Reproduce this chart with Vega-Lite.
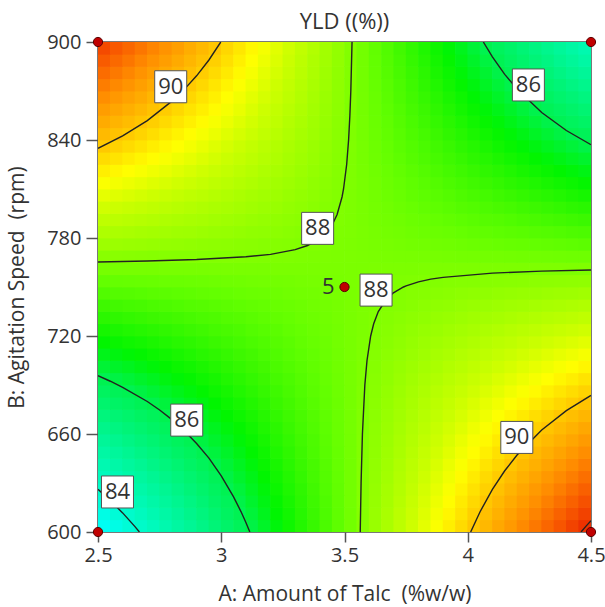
{
"$schema": "https://vega.github.io/schema/vega-lite/v6.json",
"width": 493, "height": 490,
"autosize": {"type": "none"},
"padding": {"left": 98, "top": 42, "right": 14, "bottom": 75},
"background": "white",
"title": {"text": "YLD ((%))", "font": "Open Sans", "fontSize": 22, "fontWeight": "normal", "color": "#333", "frame": "group", "anchor": "middle", "offset": -3},
"config": {
  "view": {"stroke": "#4d4d4d", "strokeWidth": 1.5},
  "axis": {"domain": false, "grid": false, "tickColor": "#555", "tickWidth": 1.5, "labelFont": "Open Sans", "labelFontSize": 20, "labelColor": "#333", "titleFont": "Open Sans", "titleFontSize": 21, "titleFontWeight": "normal", "titleColor": "#333", "labelOverlap": false}
},
"datasets": {
"grid": [
{"A":2.525,"B":603.75,"Y":83.47},{"A":2.575,"B":603.75,"Y":83.68},{"A":2.625,"B":603.75,"Y":83.90},{"A":2.675,"B":603.75,"Y":84.12},{"A":2.725,"B":603.75,"Y":84.34},{"A":2.775,"B":603.75,"Y":84.56},{"A":2.825,"B":603.75,"Y":84.78},{"A":2.875,"B":603.75,"Y":84.99},{"A":2.925,"B":603.75,"Y":85.21},{"A":2.975,"B":603.75,"Y":85.43},{"A":3.025,"B":603.75,"Y":85.65},{"A":3.075,"B":603.75,"Y":85.87},{"A":3.125,"B":603.75,"Y":86.08},{"A":3.175,"B":603.75,"Y":86.30},{"A":3.225,"B":603.75,"Y":86.52},{"A":3.275,"B":603.75,"Y":86.74},{"A":3.325,"B":603.75,"Y":86.96},{"A":3.375,"B":603.75,"Y":87.17},{"A":3.425,"B":603.75,"Y":87.39},{"A":3.475,"B":603.75,"Y":87.61},{"A":3.525,"B":603.75,"Y":87.83},{"A":3.575,"B":603.75,"Y":88.05},{"A":3.625,"B":603.75,"Y":88.27},{"A":3.675,"B":603.75,"Y":88.48},{"A":3.725,"B":603.75,"Y":88.70},{"A":3.775,"B":603.75,"Y":88.92},{"A":3.825,"B":603.75,"Y":89.14},{"A":3.875,"B":603.75,"Y":89.36},{"A":3.925,"B":603.75,"Y":89.57},{"A":3.975,"B":603.75,"Y":89.79},{"A":4.025,"B":603.75,"Y":90.01},{"A":4.075,"B":603.75,"Y":90.23},{"A":4.125,"B":603.75,"Y":90.45},{"A":4.175,"B":603.75,"Y":90.66},{"A":4.225,"B":603.75,"Y":90.88},{"A":4.275,"B":603.75,"Y":91.10},{"A":4.325,"B":603.75,"Y":91.32},{"A":4.375,"B":603.75,"Y":91.54},{"A":4.425,"B":603.75,"Y":91.76},{"A":4.475,"B":603.75,"Y":91.97},
{"A":2.525,"B":611.25,"Y":83.68},{"A":2.575,"B":611.25,"Y":83.89},{"A":2.625,"B":611.25,"Y":84.09},{"A":2.675,"B":611.25,"Y":84.30},{"A":2.725,"B":611.25,"Y":84.51},{"A":2.775,"B":611.25,"Y":84.72},{"A":2.825,"B":611.25,"Y":84.92},{"A":2.875,"B":611.25,"Y":85.13},{"A":2.925,"B":611.25,"Y":85.34},{"A":2.975,"B":611.25,"Y":85.55},{"A":3.025,"B":611.25,"Y":85.76},{"A":3.075,"B":611.25,"Y":85.96},{"A":3.125,"B":611.25,"Y":86.17},{"A":3.175,"B":611.25,"Y":86.38},{"A":3.225,"B":611.25,"Y":86.59},{"A":3.275,"B":611.25,"Y":86.79},{"A":3.325,"B":611.25,"Y":87.00},{"A":3.375,"B":611.25,"Y":87.21},{"A":3.425,"B":611.25,"Y":87.42},{"A":3.475,"B":611.25,"Y":87.63},{"A":3.525,"B":611.25,"Y":87.83},{"A":3.575,"B":611.25,"Y":88.04},{"A":3.625,"B":611.25,"Y":88.25},{"A":3.675,"B":611.25,"Y":88.46},{"A":3.725,"B":611.25,"Y":88.67},{"A":3.775,"B":611.25,"Y":88.87},{"A":3.825,"B":611.25,"Y":89.08},{"A":3.875,"B":611.25,"Y":89.29},{"A":3.925,"B":611.25,"Y":89.50},{"A":3.975,"B":611.25,"Y":89.70},{"A":4.025,"B":611.25,"Y":89.91},{"A":4.075,"B":611.25,"Y":90.12},{"A":4.125,"B":611.25,"Y":90.33},{"A":4.175,"B":611.25,"Y":90.54},{"A":4.225,"B":611.25,"Y":90.74},{"A":4.275,"B":611.25,"Y":90.95},{"A":4.325,"B":611.25,"Y":91.16},{"A":4.375,"B":611.25,"Y":91.37},{"A":4.425,"B":611.25,"Y":91.58},{"A":4.475,"B":611.25,"Y":91.78},
{"A":2.525,"B":618.75,"Y":83.89},{"A":2.575,"B":618.75,"Y":84.09},{"A":2.625,"B":618.75,"Y":84.28},{"A":2.675,"B":618.75,"Y":84.48},{"A":2.725,"B":618.75,"Y":84.68},{"A":2.775,"B":618.75,"Y":84.88},{"A":2.825,"B":618.75,"Y":85.07},{"A":2.875,"B":618.75,"Y":85.27},{"A":2.925,"B":618.75,"Y":85.47},{"A":2.975,"B":618.75,"Y":85.67},{"A":3.025,"B":618.75,"Y":85.86},{"A":3.075,"B":618.75,"Y":86.06},{"A":3.125,"B":618.75,"Y":86.26},{"A":3.175,"B":618.75,"Y":86.46},{"A":3.225,"B":618.75,"Y":86.65},{"A":3.275,"B":618.75,"Y":86.85},{"A":3.325,"B":618.75,"Y":87.05},{"A":3.375,"B":618.75,"Y":87.25},{"A":3.425,"B":618.75,"Y":87.44},{"A":3.475,"B":618.75,"Y":87.64},{"A":3.525,"B":618.75,"Y":87.84},{"A":3.575,"B":618.75,"Y":88.04},{"A":3.625,"B":618.75,"Y":88.23},{"A":3.675,"B":618.75,"Y":88.43},{"A":3.725,"B":618.75,"Y":88.63},{"A":3.775,"B":618.75,"Y":88.83},{"A":3.825,"B":618.75,"Y":89.02},{"A":3.875,"B":618.75,"Y":89.22},{"A":3.925,"B":618.75,"Y":89.42},{"A":3.975,"B":618.75,"Y":89.62},{"A":4.025,"B":618.75,"Y":89.81},{"A":4.075,"B":618.75,"Y":90.01},{"A":4.125,"B":618.75,"Y":90.21},{"A":4.175,"B":618.75,"Y":90.41},{"A":4.225,"B":618.75,"Y":90.60},{"A":4.275,"B":618.75,"Y":90.80},{"A":4.325,"B":618.75,"Y":91.00},{"A":4.375,"B":618.75,"Y":91.20},{"A":4.425,"B":618.75,"Y":91.39},{"A":4.475,"B":618.75,"Y":91.59},
{"A":2.525,"B":626.25,"Y":84.10},{"A":2.575,"B":626.25,"Y":84.29},{"A":2.625,"B":626.25,"Y":84.47},{"A":2.675,"B":626.25,"Y":84.66},{"A":2.725,"B":626.25,"Y":84.85},{"A":2.775,"B":626.25,"Y":85.03},{"A":2.825,"B":626.25,"Y":85.22},{"A":2.875,"B":626.25,"Y":85.41},{"A":2.925,"B":626.25,"Y":85.60},{"A":2.975,"B":626.25,"Y":85.78},{"A":3.025,"B":626.25,"Y":85.97},{"A":3.075,"B":626.25,"Y":86.16},{"A":3.125,"B":626.25,"Y":86.35},{"A":3.175,"B":626.25,"Y":86.53},{"A":3.225,"B":626.25,"Y":86.72},{"A":3.275,"B":626.25,"Y":86.91},{"A":3.325,"B":626.25,"Y":87.09},{"A":3.375,"B":626.25,"Y":87.28},{"A":3.425,"B":626.25,"Y":87.47},{"A":3.475,"B":626.25,"Y":87.66},{"A":3.525,"B":626.25,"Y":87.84},{"A":3.575,"B":626.25,"Y":88.03},{"A":3.625,"B":626.25,"Y":88.22},{"A":3.675,"B":626.25,"Y":88.41},{"A":3.725,"B":626.25,"Y":88.59},{"A":3.775,"B":626.25,"Y":88.78},{"A":3.825,"B":626.25,"Y":88.97},{"A":3.875,"B":626.25,"Y":89.15},{"A":3.925,"B":626.25,"Y":89.34},{"A":3.975,"B":626.25,"Y":89.53},{"A":4.025,"B":626.25,"Y":89.72},{"A":4.075,"B":626.25,"Y":89.90},{"A":4.125,"B":626.25,"Y":90.09},{"A":4.175,"B":626.25,"Y":90.28},{"A":4.225,"B":626.25,"Y":90.47},{"A":4.275,"B":626.25,"Y":90.65},{"A":4.325,"B":626.25,"Y":90.84},{"A":4.375,"B":626.25,"Y":91.03},{"A":4.425,"B":626.25,"Y":91.21},{"A":4.475,"B":626.25,"Y":91.40},
{"A":2.525,"B":633.75,"Y":84.31},{"A":2.575,"B":633.75,"Y":84.49},{"A":2.625,"B":633.75,"Y":84.66},{"A":2.675,"B":633.75,"Y":84.84},{"A":2.725,"B":633.75,"Y":85.02},{"A":2.775,"B":633.75,"Y":85.19},{"A":2.825,"B":633.75,"Y":85.37},{"A":2.875,"B":633.75,"Y":85.55},{"A":2.925,"B":633.75,"Y":85.72},{"A":2.975,"B":633.75,"Y":85.90},{"A":3.025,"B":633.75,"Y":86.08},{"A":3.075,"B":633.75,"Y":86.26},{"A":3.125,"B":633.75,"Y":86.43},{"A":3.175,"B":633.75,"Y":86.61},{"A":3.225,"B":633.75,"Y":86.79},{"A":3.275,"B":633.75,"Y":86.96},{"A":3.325,"B":633.75,"Y":87.14},{"A":3.375,"B":633.75,"Y":87.32},{"A":3.425,"B":633.75,"Y":87.49},{"A":3.475,"B":633.75,"Y":87.67},{"A":3.525,"B":633.75,"Y":87.85},{"A":3.575,"B":633.75,"Y":88.03},{"A":3.625,"B":633.75,"Y":88.20},{"A":3.675,"B":633.75,"Y":88.38},{"A":3.725,"B":633.75,"Y":88.56},{"A":3.775,"B":633.75,"Y":88.73},{"A":3.825,"B":633.75,"Y":88.91},{"A":3.875,"B":633.75,"Y":89.09},{"A":3.925,"B":633.75,"Y":89.26},{"A":3.975,"B":633.75,"Y":89.44},{"A":4.025,"B":633.75,"Y":89.62},{"A":4.075,"B":633.75,"Y":89.80},{"A":4.125,"B":633.75,"Y":89.97},{"A":4.175,"B":633.75,"Y":90.15},{"A":4.225,"B":633.75,"Y":90.33},{"A":4.275,"B":633.75,"Y":90.50},{"A":4.325,"B":633.75,"Y":90.68},{"A":4.375,"B":633.75,"Y":90.86},{"A":4.425,"B":633.75,"Y":91.03},{"A":4.475,"B":633.75,"Y":91.21},
{"A":2.525,"B":641.25,"Y":84.52},{"A":2.575,"B":641.25,"Y":84.69},{"A":2.625,"B":641.25,"Y":84.85},{"A":2.675,"B":641.25,"Y":85.02},{"A":2.725,"B":641.25,"Y":85.19},{"A":2.775,"B":641.25,"Y":85.35},{"A":2.825,"B":641.25,"Y":85.52},{"A":2.875,"B":641.25,"Y":85.69},{"A":2.925,"B":641.25,"Y":85.85},{"A":2.975,"B":641.25,"Y":86.02},{"A":3.025,"B":641.25,"Y":86.19},{"A":3.075,"B":641.25,"Y":86.35},{"A":3.125,"B":641.25,"Y":86.52},{"A":3.175,"B":641.25,"Y":86.69},{"A":3.225,"B":641.25,"Y":86.85},{"A":3.275,"B":641.25,"Y":87.02},{"A":3.325,"B":641.25,"Y":87.19},{"A":3.375,"B":641.25,"Y":87.35},{"A":3.425,"B":641.25,"Y":87.52},{"A":3.475,"B":641.25,"Y":87.69},{"A":3.525,"B":641.25,"Y":87.85},{"A":3.575,"B":641.25,"Y":88.02},{"A":3.625,"B":641.25,"Y":88.19},{"A":3.675,"B":641.25,"Y":88.35},{"A":3.725,"B":641.25,"Y":88.52},{"A":3.775,"B":641.25,"Y":88.69},{"A":3.825,"B":641.25,"Y":88.85},{"A":3.875,"B":641.25,"Y":89.02},{"A":3.925,"B":641.25,"Y":89.19},{"A":3.975,"B":641.25,"Y":89.35},{"A":4.025,"B":641.25,"Y":89.52},{"A":4.075,"B":641.25,"Y":89.69},{"A":4.125,"B":641.25,"Y":89.85},{"A":4.175,"B":641.25,"Y":90.02},{"A":4.225,"B":641.25,"Y":90.19},{"A":4.275,"B":641.25,"Y":90.35},{"A":4.325,"B":641.25,"Y":90.52},{"A":4.375,"B":641.25,"Y":90.69},{"A":4.425,"B":641.25,"Y":90.85},{"A":4.475,"B":641.25,"Y":91.02},
{"A":2.525,"B":648.75,"Y":84.73},{"A":2.575,"B":648.75,"Y":84.89},{"A":2.625,"B":648.75,"Y":85.04},{"A":2.675,"B":648.75,"Y":85.20},{"A":2.725,"B":648.75,"Y":85.35},{"A":2.775,"B":648.75,"Y":85.51},{"A":2.825,"B":648.75,"Y":85.67},{"A":2.875,"B":648.75,"Y":85.82},{"A":2.925,"B":648.75,"Y":85.98},{"A":2.975,"B":648.75,"Y":86.14},{"A":3.025,"B":648.75,"Y":86.29},{"A":3.075,"B":648.75,"Y":86.45},{"A":3.125,"B":648.75,"Y":86.61},{"A":3.175,"B":648.75,"Y":86.76},{"A":3.225,"B":648.75,"Y":86.92},{"A":3.275,"B":648.75,"Y":87.08},{"A":3.325,"B":648.75,"Y":87.23},{"A":3.375,"B":648.75,"Y":87.39},{"A":3.425,"B":648.75,"Y":87.55},{"A":3.475,"B":648.75,"Y":87.70},{"A":3.525,"B":648.75,"Y":87.86},{"A":3.575,"B":648.75,"Y":88.01},{"A":3.625,"B":648.75,"Y":88.17},{"A":3.675,"B":648.75,"Y":88.33},{"A":3.725,"B":648.75,"Y":88.48},{"A":3.775,"B":648.75,"Y":88.64},{"A":3.825,"B":648.75,"Y":88.80},{"A":3.875,"B":648.75,"Y":88.95},{"A":3.925,"B":648.75,"Y":89.11},{"A":3.975,"B":648.75,"Y":89.27},{"A":4.025,"B":648.75,"Y":89.42},{"A":4.075,"B":648.75,"Y":89.58},{"A":4.125,"B":648.75,"Y":89.74},{"A":4.175,"B":648.75,"Y":89.89},{"A":4.225,"B":648.75,"Y":90.05},{"A":4.275,"B":648.75,"Y":90.21},{"A":4.325,"B":648.75,"Y":90.36},{"A":4.375,"B":648.75,"Y":90.52},{"A":4.425,"B":648.75,"Y":90.67},{"A":4.475,"B":648.75,"Y":90.83},
{"A":2.525,"B":656.25,"Y":84.94},{"A":2.575,"B":656.25,"Y":85.09},{"A":2.625,"B":656.25,"Y":85.23},{"A":2.675,"B":656.25,"Y":85.38},{"A":2.725,"B":656.25,"Y":85.52},{"A":2.775,"B":656.25,"Y":85.67},{"A":2.825,"B":656.25,"Y":85.82},{"A":2.875,"B":656.25,"Y":85.96},{"A":2.925,"B":656.25,"Y":86.11},{"A":2.975,"B":656.25,"Y":86.26},{"A":3.025,"B":656.25,"Y":86.40},{"A":3.075,"B":656.25,"Y":86.55},{"A":3.125,"B":656.25,"Y":86.69},{"A":3.175,"B":656.25,"Y":86.84},{"A":3.225,"B":656.25,"Y":86.99},{"A":3.275,"B":656.25,"Y":87.13},{"A":3.325,"B":656.25,"Y":87.28},{"A":3.375,"B":656.25,"Y":87.42},{"A":3.425,"B":656.25,"Y":87.57},{"A":3.475,"B":656.25,"Y":87.72},{"A":3.525,"B":656.25,"Y":87.86},{"A":3.575,"B":656.25,"Y":88.01},{"A":3.625,"B":656.25,"Y":88.16},{"A":3.675,"B":656.25,"Y":88.30},{"A":3.725,"B":656.25,"Y":88.45},{"A":3.775,"B":656.25,"Y":88.59},{"A":3.825,"B":656.25,"Y":88.74},{"A":3.875,"B":656.25,"Y":88.89},{"A":3.925,"B":656.25,"Y":89.03},{"A":3.975,"B":656.25,"Y":89.18},{"A":4.025,"B":656.25,"Y":89.33},{"A":4.075,"B":656.25,"Y":89.47},{"A":4.125,"B":656.25,"Y":89.62},{"A":4.175,"B":656.25,"Y":89.76},{"A":4.225,"B":656.25,"Y":89.91},{"A":4.275,"B":656.25,"Y":90.06},{"A":4.325,"B":656.25,"Y":90.20},{"A":4.375,"B":656.25,"Y":90.35},{"A":4.425,"B":656.25,"Y":90.49},{"A":4.475,"B":656.25,"Y":90.64},
{"A":2.525,"B":663.75,"Y":85.15},{"A":2.575,"B":663.75,"Y":85.29},{"A":2.625,"B":663.75,"Y":85.42},{"A":2.675,"B":663.75,"Y":85.56},{"A":2.725,"B":663.75,"Y":85.69},{"A":2.775,"B":663.75,"Y":85.83},{"A":2.825,"B":663.75,"Y":85.97},{"A":2.875,"B":663.75,"Y":86.10},{"A":2.925,"B":663.75,"Y":86.24},{"A":2.975,"B":663.75,"Y":86.37},{"A":3.025,"B":663.75,"Y":86.51},{"A":3.075,"B":663.75,"Y":86.64},{"A":3.125,"B":663.75,"Y":86.78},{"A":3.175,"B":663.75,"Y":86.92},{"A":3.225,"B":663.75,"Y":87.05},{"A":3.275,"B":663.75,"Y":87.19},{"A":3.325,"B":663.75,"Y":87.32},{"A":3.375,"B":663.75,"Y":87.46},{"A":3.425,"B":663.75,"Y":87.60},{"A":3.475,"B":663.75,"Y":87.73},{"A":3.525,"B":663.75,"Y":87.87},{"A":3.575,"B":663.75,"Y":88.00},{"A":3.625,"B":663.75,"Y":88.14},{"A":3.675,"B":663.75,"Y":88.28},{"A":3.725,"B":663.75,"Y":88.41},{"A":3.775,"B":663.75,"Y":88.55},{"A":3.825,"B":663.75,"Y":88.68},{"A":3.875,"B":663.75,"Y":88.82},{"A":3.925,"B":663.75,"Y":88.96},{"A":3.975,"B":663.75,"Y":89.09},{"A":4.025,"B":663.75,"Y":89.23},{"A":4.075,"B":663.75,"Y":89.36},{"A":4.125,"B":663.75,"Y":89.50},{"A":4.175,"B":663.75,"Y":89.63},{"A":4.225,"B":663.75,"Y":89.77},{"A":4.275,"B":663.75,"Y":89.91},{"A":4.325,"B":663.75,"Y":90.04},{"A":4.375,"B":663.75,"Y":90.18},{"A":4.425,"B":663.75,"Y":90.31},{"A":4.475,"B":663.75,"Y":90.45},
{"A":2.525,"B":671.25,"Y":85.36},{"A":2.575,"B":671.25,"Y":85.49},{"A":2.625,"B":671.25,"Y":85.61},{"A":2.675,"B":671.25,"Y":85.74},{"A":2.725,"B":671.25,"Y":85.86},{"A":2.775,"B":671.25,"Y":85.99},{"A":2.825,"B":671.25,"Y":86.11},{"A":2.875,"B":671.25,"Y":86.24},{"A":2.925,"B":671.25,"Y":86.37},{"A":2.975,"B":671.25,"Y":86.49},{"A":3.025,"B":671.25,"Y":86.62},{"A":3.075,"B":671.25,"Y":86.74},{"A":3.125,"B":671.25,"Y":86.87},{"A":3.175,"B":671.25,"Y":86.99},{"A":3.225,"B":671.25,"Y":87.12},{"A":3.275,"B":671.25,"Y":87.24},{"A":3.325,"B":671.25,"Y":87.37},{"A":3.375,"B":671.25,"Y":87.50},{"A":3.425,"B":671.25,"Y":87.62},{"A":3.475,"B":671.25,"Y":87.75},{"A":3.525,"B":671.25,"Y":87.87},{"A":3.575,"B":671.25,"Y":88.00},{"A":3.625,"B":671.25,"Y":88.12},{"A":3.675,"B":671.25,"Y":88.25},{"A":3.725,"B":671.25,"Y":88.38},{"A":3.775,"B":671.25,"Y":88.50},{"A":3.825,"B":671.25,"Y":88.63},{"A":3.875,"B":671.25,"Y":88.75},{"A":3.925,"B":671.25,"Y":88.88},{"A":3.975,"B":671.25,"Y":89.00},{"A":4.025,"B":671.25,"Y":89.13},{"A":4.075,"B":671.25,"Y":89.25},{"A":4.125,"B":671.25,"Y":89.38},{"A":4.175,"B":671.25,"Y":89.51},{"A":4.225,"B":671.25,"Y":89.63},{"A":4.275,"B":671.25,"Y":89.76},{"A":4.325,"B":671.25,"Y":89.88},{"A":4.375,"B":671.25,"Y":90.01},{"A":4.425,"B":671.25,"Y":90.13},{"A":4.475,"B":671.25,"Y":90.26},
{"A":2.525,"B":678.75,"Y":85.57},{"A":2.575,"B":678.75,"Y":85.69},{"A":2.625,"B":678.75,"Y":85.80},{"A":2.675,"B":678.75,"Y":85.92},{"A":2.725,"B":678.75,"Y":86.03},{"A":2.775,"B":678.75,"Y":86.15},{"A":2.825,"B":678.75,"Y":86.26},{"A":2.875,"B":678.75,"Y":86.38},{"A":2.925,"B":678.75,"Y":86.49},{"A":2.975,"B":678.75,"Y":86.61},{"A":3.025,"B":678.75,"Y":86.72},{"A":3.075,"B":678.75,"Y":86.84},{"A":3.125,"B":678.75,"Y":86.95},{"A":3.175,"B":678.75,"Y":87.07},{"A":3.225,"B":678.75,"Y":87.19},{"A":3.275,"B":678.75,"Y":87.30},{"A":3.325,"B":678.75,"Y":87.42},{"A":3.375,"B":678.75,"Y":87.53},{"A":3.425,"B":678.75,"Y":87.65},{"A":3.475,"B":678.75,"Y":87.76},{"A":3.525,"B":678.75,"Y":87.88},{"A":3.575,"B":678.75,"Y":87.99},{"A":3.625,"B":678.75,"Y":88.11},{"A":3.675,"B":678.75,"Y":88.22},{"A":3.725,"B":678.75,"Y":88.34},{"A":3.775,"B":678.75,"Y":88.45},{"A":3.825,"B":678.75,"Y":88.57},{"A":3.875,"B":678.75,"Y":88.69},{"A":3.925,"B":678.75,"Y":88.80},{"A":3.975,"B":678.75,"Y":88.92},{"A":4.025,"B":678.75,"Y":89.03},{"A":4.075,"B":678.75,"Y":89.15},{"A":4.125,"B":678.75,"Y":89.26},{"A":4.175,"B":678.75,"Y":89.38},{"A":4.225,"B":678.75,"Y":89.49},{"A":4.275,"B":678.75,"Y":89.61},{"A":4.325,"B":678.75,"Y":89.72},{"A":4.375,"B":678.75,"Y":89.84},{"A":4.425,"B":678.75,"Y":89.95},{"A":4.475,"B":678.75,"Y":90.07},
{"A":2.525,"B":686.25,"Y":85.78},{"A":2.575,"B":686.25,"Y":85.89},{"A":2.625,"B":686.25,"Y":85.99},{"A":2.675,"B":686.25,"Y":86.10},{"A":2.725,"B":686.25,"Y":86.20},{"A":2.775,"B":686.25,"Y":86.31},{"A":2.825,"B":686.25,"Y":86.41},{"A":2.875,"B":686.25,"Y":86.52},{"A":2.925,"B":686.25,"Y":86.62},{"A":2.975,"B":686.25,"Y":86.73},{"A":3.025,"B":686.25,"Y":86.83},{"A":3.075,"B":686.25,"Y":86.94},{"A":3.125,"B":686.25,"Y":87.04},{"A":3.175,"B":686.25,"Y":87.15},{"A":3.225,"B":686.25,"Y":87.25},{"A":3.275,"B":686.25,"Y":87.36},{"A":3.325,"B":686.25,"Y":87.46},{"A":3.375,"B":686.25,"Y":87.57},{"A":3.425,"B":686.25,"Y":87.67},{"A":3.475,"B":686.25,"Y":87.78},{"A":3.525,"B":686.25,"Y":87.88},{"A":3.575,"B":686.25,"Y":87.99},{"A":3.625,"B":686.25,"Y":88.09},{"A":3.675,"B":686.25,"Y":88.20},{"A":3.725,"B":686.25,"Y":88.30},{"A":3.775,"B":686.25,"Y":88.41},{"A":3.825,"B":686.25,"Y":88.51},{"A":3.875,"B":686.25,"Y":88.62},{"A":3.925,"B":686.25,"Y":88.72},{"A":3.975,"B":686.25,"Y":88.83},{"A":4.025,"B":686.25,"Y":88.93},{"A":4.075,"B":686.25,"Y":89.04},{"A":4.125,"B":686.25,"Y":89.14},{"A":4.175,"B":686.25,"Y":89.25},{"A":4.225,"B":686.25,"Y":89.35},{"A":4.275,"B":686.25,"Y":89.46},{"A":4.325,"B":686.25,"Y":89.56},{"A":4.375,"B":686.25,"Y":89.67},{"A":4.425,"B":686.25,"Y":89.77},{"A":4.475,"B":686.25,"Y":89.88},
{"A":2.525,"B":693.75,"Y":85.99},{"A":2.575,"B":693.75,"Y":86.09},{"A":2.625,"B":693.75,"Y":86.18},{"A":2.675,"B":693.75,"Y":86.28},{"A":2.725,"B":693.75,"Y":86.37},{"A":2.775,"B":693.75,"Y":86.47},{"A":2.825,"B":693.75,"Y":86.56},{"A":2.875,"B":693.75,"Y":86.65},{"A":2.925,"B":693.75,"Y":86.75},{"A":2.975,"B":693.75,"Y":86.84},{"A":3.025,"B":693.75,"Y":86.94},{"A":3.075,"B":693.75,"Y":87.03},{"A":3.125,"B":693.75,"Y":87.13},{"A":3.175,"B":693.75,"Y":87.22},{"A":3.225,"B":693.75,"Y":87.32},{"A":3.275,"B":693.75,"Y":87.41},{"A":3.325,"B":693.75,"Y":87.51},{"A":3.375,"B":693.75,"Y":87.60},{"A":3.425,"B":693.75,"Y":87.70},{"A":3.475,"B":693.75,"Y":87.79},{"A":3.525,"B":693.75,"Y":87.89},{"A":3.575,"B":693.75,"Y":87.98},{"A":3.625,"B":693.75,"Y":88.08},{"A":3.675,"B":693.75,"Y":88.17},{"A":3.725,"B":693.75,"Y":88.27},{"A":3.775,"B":693.75,"Y":88.36},{"A":3.825,"B":693.75,"Y":88.46},{"A":3.875,"B":693.75,"Y":88.55},{"A":3.925,"B":693.75,"Y":88.65},{"A":3.975,"B":693.75,"Y":88.74},{"A":4.025,"B":693.75,"Y":88.84},{"A":4.075,"B":693.75,"Y":88.93},{"A":4.125,"B":693.75,"Y":89.03},{"A":4.175,"B":693.75,"Y":89.12},{"A":4.225,"B":693.75,"Y":89.21},{"A":4.275,"B":693.75,"Y":89.31},{"A":4.325,"B":693.75,"Y":89.40},{"A":4.375,"B":693.75,"Y":89.50},{"A":4.425,"B":693.75,"Y":89.59},{"A":4.475,"B":693.75,"Y":89.69},
{"A":2.525,"B":701.25,"Y":86.20},{"A":2.575,"B":701.25,"Y":86.29},{"A":2.625,"B":701.25,"Y":86.37},{"A":2.675,"B":701.25,"Y":86.46},{"A":2.725,"B":701.25,"Y":86.54},{"A":2.775,"B":701.25,"Y":86.62},{"A":2.825,"B":701.25,"Y":86.71},{"A":2.875,"B":701.25,"Y":86.79},{"A":2.925,"B":701.25,"Y":86.88},{"A":2.975,"B":701.25,"Y":86.96},{"A":3.025,"B":701.25,"Y":87.05},{"A":3.075,"B":701.25,"Y":87.13},{"A":3.125,"B":701.25,"Y":87.22},{"A":3.175,"B":701.25,"Y":87.30},{"A":3.225,"B":701.25,"Y":87.39},{"A":3.275,"B":701.25,"Y":87.47},{"A":3.325,"B":701.25,"Y":87.55},{"A":3.375,"B":701.25,"Y":87.64},{"A":3.425,"B":701.25,"Y":87.72},{"A":3.475,"B":701.25,"Y":87.81},{"A":3.525,"B":701.25,"Y":87.89},{"A":3.575,"B":701.25,"Y":87.98},{"A":3.625,"B":701.25,"Y":88.06},{"A":3.675,"B":701.25,"Y":88.15},{"A":3.725,"B":701.25,"Y":88.23},{"A":3.775,"B":701.25,"Y":88.31},{"A":3.825,"B":701.25,"Y":88.40},{"A":3.875,"B":701.25,"Y":88.48},{"A":3.925,"B":701.25,"Y":88.57},{"A":3.975,"B":701.25,"Y":88.65},{"A":4.025,"B":701.25,"Y":88.74},{"A":4.075,"B":701.25,"Y":88.82},{"A":4.125,"B":701.25,"Y":88.91},{"A":4.175,"B":701.25,"Y":88.99},{"A":4.225,"B":701.25,"Y":89.08},{"A":4.275,"B":701.25,"Y":89.16},{"A":4.325,"B":701.25,"Y":89.24},{"A":4.375,"B":701.25,"Y":89.33},{"A":4.425,"B":701.25,"Y":89.41},{"A":4.475,"B":701.25,"Y":89.50},
{"A":2.525,"B":708.75,"Y":86.41},{"A":2.575,"B":708.75,"Y":86.49},{"A":2.625,"B":708.75,"Y":86.56},{"A":2.675,"B":708.75,"Y":86.63},{"A":2.725,"B":708.75,"Y":86.71},{"A":2.775,"B":708.75,"Y":86.78},{"A":2.825,"B":708.75,"Y":86.86},{"A":2.875,"B":708.75,"Y":86.93},{"A":2.925,"B":708.75,"Y":87.01},{"A":2.975,"B":708.75,"Y":87.08},{"A":3.025,"B":708.75,"Y":87.15},{"A":3.075,"B":708.75,"Y":87.23},{"A":3.125,"B":708.75,"Y":87.30},{"A":3.175,"B":708.75,"Y":87.38},{"A":3.225,"B":708.75,"Y":87.45},{"A":3.275,"B":708.75,"Y":87.53},{"A":3.325,"B":708.75,"Y":87.60},{"A":3.375,"B":708.75,"Y":87.67},{"A":3.425,"B":708.75,"Y":87.75},{"A":3.475,"B":708.75,"Y":87.82},{"A":3.525,"B":708.75,"Y":87.90},{"A":3.575,"B":708.75,"Y":87.97},{"A":3.625,"B":708.75,"Y":88.05},{"A":3.675,"B":708.75,"Y":88.12},{"A":3.725,"B":708.75,"Y":88.19},{"A":3.775,"B":708.75,"Y":88.27},{"A":3.825,"B":708.75,"Y":88.34},{"A":3.875,"B":708.75,"Y":88.42},{"A":3.925,"B":708.75,"Y":88.49},{"A":3.975,"B":708.75,"Y":88.57},{"A":4.025,"B":708.75,"Y":88.64},{"A":4.075,"B":708.75,"Y":88.71},{"A":4.125,"B":708.75,"Y":88.79},{"A":4.175,"B":708.75,"Y":88.86},{"A":4.225,"B":708.75,"Y":88.94},{"A":4.275,"B":708.75,"Y":89.01},{"A":4.325,"B":708.75,"Y":89.09},{"A":4.375,"B":708.75,"Y":89.16},{"A":4.425,"B":708.75,"Y":89.23},{"A":4.475,"B":708.75,"Y":89.31},
{"A":2.525,"B":716.25,"Y":86.62},{"A":2.575,"B":716.25,"Y":86.69},{"A":2.625,"B":716.25,"Y":86.75},{"A":2.675,"B":716.25,"Y":86.81},{"A":2.725,"B":716.25,"Y":86.88},{"A":2.775,"B":716.25,"Y":86.94},{"A":2.825,"B":716.25,"Y":87.01},{"A":2.875,"B":716.25,"Y":87.07},{"A":2.925,"B":716.25,"Y":87.13},{"A":2.975,"B":716.25,"Y":87.20},{"A":3.025,"B":716.25,"Y":87.26},{"A":3.075,"B":716.25,"Y":87.33},{"A":3.125,"B":716.25,"Y":87.39},{"A":3.175,"B":716.25,"Y":87.45},{"A":3.225,"B":716.25,"Y":87.52},{"A":3.275,"B":716.25,"Y":87.58},{"A":3.325,"B":716.25,"Y":87.65},{"A":3.375,"B":716.25,"Y":87.71},{"A":3.425,"B":716.25,"Y":87.77},{"A":3.475,"B":716.25,"Y":87.84},{"A":3.525,"B":716.25,"Y":87.90},{"A":3.575,"B":716.25,"Y":87.97},{"A":3.625,"B":716.25,"Y":88.03},{"A":3.675,"B":716.25,"Y":88.09},{"A":3.725,"B":716.25,"Y":88.16},{"A":3.775,"B":716.25,"Y":88.22},{"A":3.825,"B":716.25,"Y":88.29},{"A":3.875,"B":716.25,"Y":88.35},{"A":3.925,"B":716.25,"Y":88.41},{"A":3.975,"B":716.25,"Y":88.48},{"A":4.025,"B":716.25,"Y":88.54},{"A":4.075,"B":716.25,"Y":88.61},{"A":4.125,"B":716.25,"Y":88.67},{"A":4.175,"B":716.25,"Y":88.73},{"A":4.225,"B":716.25,"Y":88.80},{"A":4.275,"B":716.25,"Y":88.86},{"A":4.325,"B":716.25,"Y":88.93},{"A":4.375,"B":716.25,"Y":88.99},{"A":4.425,"B":716.25,"Y":89.05},{"A":4.475,"B":716.25,"Y":89.12},
{"A":2.525,"B":723.75,"Y":86.83},{"A":2.575,"B":723.75,"Y":86.89},{"A":2.625,"B":723.75,"Y":86.94},{"A":2.675,"B":723.75,"Y":86.99},{"A":2.725,"B":723.75,"Y":87.05},{"A":2.775,"B":723.75,"Y":87.10},{"A":2.825,"B":723.75,"Y":87.15},{"A":2.875,"B":723.75,"Y":87.21},{"A":2.925,"B":723.75,"Y":87.26},{"A":2.975,"B":723.75,"Y":87.32},{"A":3.025,"B":723.75,"Y":87.37},{"A":3.075,"B":723.75,"Y":87.42},{"A":3.125,"B":723.75,"Y":87.48},{"A":3.175,"B":723.75,"Y":87.53},{"A":3.225,"B":723.75,"Y":87.58},{"A":3.275,"B":723.75,"Y":87.64},{"A":3.325,"B":723.75,"Y":87.69},{"A":3.375,"B":723.75,"Y":87.75},{"A":3.425,"B":723.75,"Y":87.80},{"A":3.475,"B":723.75,"Y":87.85},{"A":3.525,"B":723.75,"Y":87.91},{"A":3.575,"B":723.75,"Y":87.96},{"A":3.625,"B":723.75,"Y":88.01},{"A":3.675,"B":723.75,"Y":88.07},{"A":3.725,"B":723.75,"Y":88.12},{"A":3.775,"B":723.75,"Y":88.18},{"A":3.825,"B":723.75,"Y":88.23},{"A":3.875,"B":723.75,"Y":88.28},{"A":3.925,"B":723.75,"Y":88.34},{"A":3.975,"B":723.75,"Y":88.39},{"A":4.025,"B":723.75,"Y":88.44},{"A":4.075,"B":723.75,"Y":88.50},{"A":4.125,"B":723.75,"Y":88.55},{"A":4.175,"B":723.75,"Y":88.61},{"A":4.225,"B":723.75,"Y":88.66},{"A":4.275,"B":723.75,"Y":88.71},{"A":4.325,"B":723.75,"Y":88.77},{"A":4.375,"B":723.75,"Y":88.82},{"A":4.425,"B":723.75,"Y":88.87},{"A":4.475,"B":723.75,"Y":88.93},
{"A":2.525,"B":731.25,"Y":87.04},{"A":2.575,"B":731.25,"Y":87.09},{"A":2.625,"B":731.25,"Y":87.13},{"A":2.675,"B":731.25,"Y":87.17},{"A":2.725,"B":731.25,"Y":87.22},{"A":2.775,"B":731.25,"Y":87.26},{"A":2.825,"B":731.25,"Y":87.30},{"A":2.875,"B":731.25,"Y":87.35},{"A":2.925,"B":731.25,"Y":87.39},{"A":2.975,"B":731.25,"Y":87.43},{"A":3.025,"B":731.25,"Y":87.48},{"A":3.075,"B":731.25,"Y":87.52},{"A":3.125,"B":731.25,"Y":87.56},{"A":3.175,"B":731.25,"Y":87.61},{"A":3.225,"B":731.25,"Y":87.65},{"A":3.275,"B":731.25,"Y":87.69},{"A":3.325,"B":731.25,"Y":87.74},{"A":3.375,"B":731.25,"Y":87.78},{"A":3.425,"B":731.25,"Y":87.82},{"A":3.475,"B":731.25,"Y":87.87},{"A":3.525,"B":731.25,"Y":87.91},{"A":3.575,"B":731.25,"Y":87.96},{"A":3.625,"B":731.25,"Y":88.00},{"A":3.675,"B":731.25,"Y":88.04},{"A":3.725,"B":731.25,"Y":88.09},{"A":3.775,"B":731.25,"Y":88.13},{"A":3.825,"B":731.25,"Y":88.17},{"A":3.875,"B":731.25,"Y":88.22},{"A":3.925,"B":731.25,"Y":88.26},{"A":3.975,"B":731.25,"Y":88.30},{"A":4.025,"B":731.25,"Y":88.35},{"A":4.075,"B":731.25,"Y":88.39},{"A":4.125,"B":731.25,"Y":88.43},{"A":4.175,"B":731.25,"Y":88.48},{"A":4.225,"B":731.25,"Y":88.52},{"A":4.275,"B":731.25,"Y":88.56},{"A":4.325,"B":731.25,"Y":88.61},{"A":4.375,"B":731.25,"Y":88.65},{"A":4.425,"B":731.25,"Y":88.69},{"A":4.475,"B":731.25,"Y":88.74},
{"A":2.525,"B":738.75,"Y":87.25},{"A":2.575,"B":738.75,"Y":87.29},{"A":2.625,"B":738.75,"Y":87.32},{"A":2.675,"B":738.75,"Y":87.35},{"A":2.725,"B":738.75,"Y":87.39},{"A":2.775,"B":738.75,"Y":87.42},{"A":2.825,"B":738.75,"Y":87.45},{"A":2.875,"B":738.75,"Y":87.49},{"A":2.925,"B":738.75,"Y":87.52},{"A":2.975,"B":738.75,"Y":87.55},{"A":3.025,"B":738.75,"Y":87.59},{"A":3.075,"B":738.75,"Y":87.62},{"A":3.125,"B":738.75,"Y":87.65},{"A":3.175,"B":738.75,"Y":87.68},{"A":3.225,"B":738.75,"Y":87.72},{"A":3.275,"B":738.75,"Y":87.75},{"A":3.325,"B":738.75,"Y":87.78},{"A":3.375,"B":738.75,"Y":87.82},{"A":3.425,"B":738.75,"Y":87.85},{"A":3.475,"B":738.75,"Y":87.88},{"A":3.525,"B":738.75,"Y":87.92},{"A":3.575,"B":738.75,"Y":87.95},{"A":3.625,"B":738.75,"Y":87.98},{"A":3.675,"B":738.75,"Y":88.02},{"A":3.725,"B":738.75,"Y":88.05},{"A":3.775,"B":738.75,"Y":88.08},{"A":3.825,"B":738.75,"Y":88.12},{"A":3.875,"B":738.75,"Y":88.15},{"A":3.925,"B":738.75,"Y":88.18},{"A":3.975,"B":738.75,"Y":88.22},{"A":4.025,"B":738.75,"Y":88.25},{"A":4.075,"B":738.75,"Y":88.28},{"A":4.125,"B":738.75,"Y":88.31},{"A":4.175,"B":738.75,"Y":88.35},{"A":4.225,"B":738.75,"Y":88.38},{"A":4.275,"B":738.75,"Y":88.41},{"A":4.325,"B":738.75,"Y":88.45},{"A":4.375,"B":738.75,"Y":88.48},{"A":4.425,"B":738.75,"Y":88.51},{"A":4.475,"B":738.75,"Y":88.55},
{"A":2.525,"B":746.25,"Y":87.46},{"A":2.575,"B":746.25,"Y":87.49},{"A":2.625,"B":746.25,"Y":87.51},{"A":2.675,"B":746.25,"Y":87.53},{"A":2.725,"B":746.25,"Y":87.56},{"A":2.775,"B":746.25,"Y":87.58},{"A":2.825,"B":746.25,"Y":87.60},{"A":2.875,"B":746.25,"Y":87.62},{"A":2.925,"B":746.25,"Y":87.65},{"A":2.975,"B":746.25,"Y":87.67},{"A":3.025,"B":746.25,"Y":87.69},{"A":3.075,"B":746.25,"Y":87.72},{"A":3.125,"B":746.25,"Y":87.74},{"A":3.175,"B":746.25,"Y":87.76},{"A":3.225,"B":746.25,"Y":87.78},{"A":3.275,"B":746.25,"Y":87.81},{"A":3.325,"B":746.25,"Y":87.83},{"A":3.375,"B":746.25,"Y":87.85},{"A":3.425,"B":746.25,"Y":87.88},{"A":3.475,"B":746.25,"Y":87.90},{"A":3.525,"B":746.25,"Y":87.92},{"A":3.575,"B":746.25,"Y":87.94},{"A":3.625,"B":746.25,"Y":87.97},{"A":3.675,"B":746.25,"Y":87.99},{"A":3.725,"B":746.25,"Y":88.01},{"A":3.775,"B":746.25,"Y":88.04},{"A":3.825,"B":746.25,"Y":88.06},{"A":3.875,"B":746.25,"Y":88.08},{"A":3.925,"B":746.25,"Y":88.10},{"A":3.975,"B":746.25,"Y":88.13},{"A":4.025,"B":746.25,"Y":88.15},{"A":4.075,"B":746.25,"Y":88.17},{"A":4.125,"B":746.25,"Y":88.20},{"A":4.175,"B":746.25,"Y":88.22},{"A":4.225,"B":746.25,"Y":88.24},{"A":4.275,"B":746.25,"Y":88.26},{"A":4.325,"B":746.25,"Y":88.29},{"A":4.375,"B":746.25,"Y":88.31},{"A":4.425,"B":746.25,"Y":88.33},{"A":4.475,"B":746.25,"Y":88.36},
{"A":2.525,"B":753.75,"Y":87.67},{"A":2.575,"B":753.75,"Y":87.69},{"A":2.625,"B":753.75,"Y":87.70},{"A":2.675,"B":753.75,"Y":87.71},{"A":2.725,"B":753.75,"Y":87.72},{"A":2.775,"B":753.75,"Y":87.74},{"A":2.825,"B":753.75,"Y":87.75},{"A":2.875,"B":753.75,"Y":87.76},{"A":2.925,"B":753.75,"Y":87.77},{"A":2.975,"B":753.75,"Y":87.79},{"A":3.025,"B":753.75,"Y":87.80},{"A":3.075,"B":753.75,"Y":87.81},{"A":3.125,"B":753.75,"Y":87.83},{"A":3.175,"B":753.75,"Y":87.84},{"A":3.225,"B":753.75,"Y":87.85},{"A":3.275,"B":753.75,"Y":87.86},{"A":3.325,"B":753.75,"Y":87.88},{"A":3.375,"B":753.75,"Y":87.89},{"A":3.425,"B":753.75,"Y":87.90},{"A":3.475,"B":753.75,"Y":87.91},{"A":3.525,"B":753.75,"Y":87.93},{"A":3.575,"B":753.75,"Y":87.94},{"A":3.625,"B":753.75,"Y":87.95},{"A":3.675,"B":753.75,"Y":87.96},{"A":3.725,"B":753.75,"Y":87.98},{"A":3.775,"B":753.75,"Y":87.99},{"A":3.825,"B":753.75,"Y":88.00},{"A":3.875,"B":753.75,"Y":88.01},{"A":3.925,"B":753.75,"Y":88.03},{"A":3.975,"B":753.75,"Y":88.04},{"A":4.025,"B":753.75,"Y":88.05},{"A":4.075,"B":753.75,"Y":88.07},{"A":4.125,"B":753.75,"Y":88.08},{"A":4.175,"B":753.75,"Y":88.09},{"A":4.225,"B":753.75,"Y":88.10},{"A":4.275,"B":753.75,"Y":88.12},{"A":4.325,"B":753.75,"Y":88.13},{"A":4.375,"B":753.75,"Y":88.14},{"A":4.425,"B":753.75,"Y":88.15},{"A":4.475,"B":753.75,"Y":88.17},
{"A":2.525,"B":761.25,"Y":87.88},{"A":2.575,"B":761.25,"Y":87.89},{"A":2.625,"B":761.25,"Y":87.89},{"A":2.675,"B":761.25,"Y":87.89},{"A":2.725,"B":761.25,"Y":87.89},{"A":2.775,"B":761.25,"Y":87.90},{"A":2.825,"B":761.25,"Y":87.90},{"A":2.875,"B":761.25,"Y":87.90},{"A":2.925,"B":761.25,"Y":87.90},{"A":2.975,"B":761.25,"Y":87.91},{"A":3.025,"B":761.25,"Y":87.91},{"A":3.075,"B":761.25,"Y":87.91},{"A":3.125,"B":761.25,"Y":87.91},{"A":3.175,"B":761.25,"Y":87.91},{"A":3.225,"B":761.25,"Y":87.92},{"A":3.275,"B":761.25,"Y":87.92},{"A":3.325,"B":761.25,"Y":87.92},{"A":3.375,"B":761.25,"Y":87.92},{"A":3.425,"B":761.25,"Y":87.93},{"A":3.475,"B":761.25,"Y":87.93},{"A":3.525,"B":761.25,"Y":87.93},{"A":3.575,"B":761.25,"Y":87.93},{"A":3.625,"B":761.25,"Y":87.94},{"A":3.675,"B":761.25,"Y":87.94},{"A":3.725,"B":761.25,"Y":87.94},{"A":3.775,"B":761.25,"Y":87.94},{"A":3.825,"B":761.25,"Y":87.95},{"A":3.875,"B":761.25,"Y":87.95},{"A":3.925,"B":761.25,"Y":87.95},{"A":3.975,"B":761.25,"Y":87.95},{"A":4.025,"B":761.25,"Y":87.95},{"A":4.075,"B":761.25,"Y":87.96},{"A":4.125,"B":761.25,"Y":87.96},{"A":4.175,"B":761.25,"Y":87.96},{"A":4.225,"B":761.25,"Y":87.96},{"A":4.275,"B":761.25,"Y":87.97},{"A":4.325,"B":761.25,"Y":87.97},{"A":4.375,"B":761.25,"Y":87.97},{"A":4.425,"B":761.25,"Y":87.97},{"A":4.475,"B":761.25,"Y":87.98},
{"A":2.525,"B":768.75,"Y":88.09},{"A":2.575,"B":768.75,"Y":88.09},{"A":2.625,"B":768.75,"Y":88.08},{"A":2.675,"B":768.75,"Y":88.07},{"A":2.725,"B":768.75,"Y":88.06},{"A":2.775,"B":768.75,"Y":88.06},{"A":2.825,"B":768.75,"Y":88.05},{"A":2.875,"B":768.75,"Y":88.04},{"A":2.925,"B":768.75,"Y":88.03},{"A":2.975,"B":768.75,"Y":88.02},{"A":3.025,"B":768.75,"Y":88.02},{"A":3.075,"B":768.75,"Y":88.01},{"A":3.125,"B":768.75,"Y":88.00},{"A":3.175,"B":768.75,"Y":87.99},{"A":3.225,"B":768.75,"Y":87.98},{"A":3.275,"B":768.75,"Y":87.98},{"A":3.325,"B":768.75,"Y":87.97},{"A":3.375,"B":768.75,"Y":87.96},{"A":3.425,"B":768.75,"Y":87.95},{"A":3.475,"B":768.75,"Y":87.94},{"A":3.525,"B":768.75,"Y":87.94},{"A":3.575,"B":768.75,"Y":87.93},{"A":3.625,"B":768.75,"Y":87.92},{"A":3.675,"B":768.75,"Y":87.91},{"A":3.725,"B":768.75,"Y":87.90},{"A":3.775,"B":768.75,"Y":87.90},{"A":3.825,"B":768.75,"Y":87.89},{"A":3.875,"B":768.75,"Y":87.88},{"A":3.925,"B":768.75,"Y":87.87},{"A":3.975,"B":768.75,"Y":87.86},{"A":4.025,"B":768.75,"Y":87.86},{"A":4.075,"B":768.75,"Y":87.85},{"A":4.125,"B":768.75,"Y":87.84},{"A":4.175,"B":768.75,"Y":87.83},{"A":4.225,"B":768.75,"Y":87.82},{"A":4.275,"B":768.75,"Y":87.82},{"A":4.325,"B":768.75,"Y":87.81},{"A":4.375,"B":768.75,"Y":87.80},{"A":4.425,"B":768.75,"Y":87.79},{"A":4.475,"B":768.75,"Y":87.79},
{"A":2.525,"B":776.25,"Y":88.31},{"A":2.575,"B":776.25,"Y":88.29},{"A":2.625,"B":776.25,"Y":88.27},{"A":2.675,"B":776.25,"Y":88.25},{"A":2.725,"B":776.25,"Y":88.23},{"A":2.775,"B":776.25,"Y":88.21},{"A":2.825,"B":776.25,"Y":88.20},{"A":2.875,"B":776.25,"Y":88.18},{"A":2.925,"B":776.25,"Y":88.16},{"A":2.975,"B":776.25,"Y":88.14},{"A":3.025,"B":776.25,"Y":88.12},{"A":3.075,"B":776.25,"Y":88.10},{"A":3.125,"B":776.25,"Y":88.09},{"A":3.175,"B":776.25,"Y":88.07},{"A":3.225,"B":776.25,"Y":88.05},{"A":3.275,"B":776.25,"Y":88.03},{"A":3.325,"B":776.25,"Y":88.01},{"A":3.375,"B":776.25,"Y":88.00},{"A":3.425,"B":776.25,"Y":87.98},{"A":3.475,"B":776.25,"Y":87.96},{"A":3.525,"B":776.25,"Y":87.94},{"A":3.575,"B":776.25,"Y":87.92},{"A":3.625,"B":776.25,"Y":87.90},{"A":3.675,"B":776.25,"Y":87.89},{"A":3.725,"B":776.25,"Y":87.87},{"A":3.775,"B":776.25,"Y":87.85},{"A":3.825,"B":776.25,"Y":87.83},{"A":3.875,"B":776.25,"Y":87.81},{"A":3.925,"B":776.25,"Y":87.80},{"A":3.975,"B":776.25,"Y":87.78},{"A":4.025,"B":776.25,"Y":87.76},{"A":4.075,"B":776.25,"Y":87.74},{"A":4.125,"B":776.25,"Y":87.72},{"A":4.175,"B":776.25,"Y":87.70},{"A":4.225,"B":776.25,"Y":87.69},{"A":4.275,"B":776.25,"Y":87.67},{"A":4.325,"B":776.25,"Y":87.65},{"A":4.375,"B":776.25,"Y":87.63},{"A":4.425,"B":776.25,"Y":87.61},{"A":4.475,"B":776.25,"Y":87.59},
{"A":2.525,"B":783.75,"Y":88.52},{"A":2.575,"B":783.75,"Y":88.49},{"A":2.625,"B":783.75,"Y":88.46},{"A":2.675,"B":783.75,"Y":88.43},{"A":2.725,"B":783.75,"Y":88.40},{"A":2.775,"B":783.75,"Y":88.37},{"A":2.825,"B":783.75,"Y":88.34},{"A":2.875,"B":783.75,"Y":88.32},{"A":2.925,"B":783.75,"Y":88.29},{"A":2.975,"B":783.75,"Y":88.26},{"A":3.025,"B":783.75,"Y":88.23},{"A":3.075,"B":783.75,"Y":88.20},{"A":3.125,"B":783.75,"Y":88.17},{"A":3.175,"B":783.75,"Y":88.15},{"A":3.225,"B":783.75,"Y":88.12},{"A":3.275,"B":783.75,"Y":88.09},{"A":3.325,"B":783.75,"Y":88.06},{"A":3.375,"B":783.75,"Y":88.03},{"A":3.425,"B":783.75,"Y":88.00},{"A":3.475,"B":783.75,"Y":87.97},{"A":3.525,"B":783.75,"Y":87.95},{"A":3.575,"B":783.75,"Y":87.92},{"A":3.625,"B":783.75,"Y":87.89},{"A":3.675,"B":783.75,"Y":87.86},{"A":3.725,"B":783.75,"Y":87.83},{"A":3.775,"B":783.75,"Y":87.80},{"A":3.825,"B":783.75,"Y":87.77},{"A":3.875,"B":783.75,"Y":87.75},{"A":3.925,"B":783.75,"Y":87.72},{"A":3.975,"B":783.75,"Y":87.69},{"A":4.025,"B":783.75,"Y":87.66},{"A":4.075,"B":783.75,"Y":87.63},{"A":4.125,"B":783.75,"Y":87.60},{"A":4.175,"B":783.75,"Y":87.58},{"A":4.225,"B":783.75,"Y":87.55},{"A":4.275,"B":783.75,"Y":87.52},{"A":4.325,"B":783.75,"Y":87.49},{"A":4.375,"B":783.75,"Y":87.46},{"A":4.425,"B":783.75,"Y":87.43},{"A":4.475,"B":783.75,"Y":87.40},
{"A":2.525,"B":791.25,"Y":88.73},{"A":2.575,"B":791.25,"Y":88.69},{"A":2.625,"B":791.25,"Y":88.65},{"A":2.675,"B":791.25,"Y":88.61},{"A":2.725,"B":791.25,"Y":88.57},{"A":2.775,"B":791.25,"Y":88.53},{"A":2.825,"B":791.25,"Y":88.49},{"A":2.875,"B":791.25,"Y":88.45},{"A":2.925,"B":791.25,"Y":88.42},{"A":2.975,"B":791.25,"Y":88.38},{"A":3.025,"B":791.25,"Y":88.34},{"A":3.075,"B":791.25,"Y":88.30},{"A":3.125,"B":791.25,"Y":88.26},{"A":3.175,"B":791.25,"Y":88.22},{"A":3.225,"B":791.25,"Y":88.18},{"A":3.275,"B":791.25,"Y":88.14},{"A":3.325,"B":791.25,"Y":88.11},{"A":3.375,"B":791.25,"Y":88.07},{"A":3.425,"B":791.25,"Y":88.03},{"A":3.475,"B":791.25,"Y":87.99},{"A":3.525,"B":791.25,"Y":87.95},{"A":3.575,"B":791.25,"Y":87.91},{"A":3.625,"B":791.25,"Y":87.87},{"A":3.675,"B":791.25,"Y":87.83},{"A":3.725,"B":791.25,"Y":87.80},{"A":3.775,"B":791.25,"Y":87.76},{"A":3.825,"B":791.25,"Y":87.72},{"A":3.875,"B":791.25,"Y":87.68},{"A":3.925,"B":791.25,"Y":87.64},{"A":3.975,"B":791.25,"Y":87.60},{"A":4.025,"B":791.25,"Y":87.56},{"A":4.075,"B":791.25,"Y":87.52},{"A":4.125,"B":791.25,"Y":87.49},{"A":4.175,"B":791.25,"Y":87.45},{"A":4.225,"B":791.25,"Y":87.41},{"A":4.275,"B":791.25,"Y":87.37},{"A":4.325,"B":791.25,"Y":87.33},{"A":4.375,"B":791.25,"Y":87.29},{"A":4.425,"B":791.25,"Y":87.25},{"A":4.475,"B":791.25,"Y":87.21},
{"A":2.525,"B":798.75,"Y":88.94},{"A":2.575,"B":798.75,"Y":88.89},{"A":2.625,"B":798.75,"Y":88.84},{"A":2.675,"B":798.75,"Y":88.79},{"A":2.725,"B":798.75,"Y":88.74},{"A":2.775,"B":798.75,"Y":88.69},{"A":2.825,"B":798.75,"Y":88.64},{"A":2.875,"B":798.75,"Y":88.59},{"A":2.925,"B":798.75,"Y":88.54},{"A":2.975,"B":798.75,"Y":88.49},{"A":3.025,"B":798.75,"Y":88.45},{"A":3.075,"B":798.75,"Y":88.40},{"A":3.125,"B":798.75,"Y":88.35},{"A":3.175,"B":798.75,"Y":88.30},{"A":3.225,"B":798.75,"Y":88.25},{"A":3.275,"B":798.75,"Y":88.20},{"A":3.325,"B":798.75,"Y":88.15},{"A":3.375,"B":798.75,"Y":88.10},{"A":3.425,"B":798.75,"Y":88.05},{"A":3.475,"B":798.75,"Y":88.00},{"A":3.525,"B":798.75,"Y":87.96},{"A":3.575,"B":798.75,"Y":87.91},{"A":3.625,"B":798.75,"Y":87.86},{"A":3.675,"B":798.75,"Y":87.81},{"A":3.725,"B":798.75,"Y":87.76},{"A":3.775,"B":798.75,"Y":87.71},{"A":3.825,"B":798.75,"Y":87.66},{"A":3.875,"B":798.75,"Y":87.61},{"A":3.925,"B":798.75,"Y":87.56},{"A":3.975,"B":798.75,"Y":87.51},{"A":4.025,"B":798.75,"Y":87.47},{"A":4.075,"B":798.75,"Y":87.42},{"A":4.125,"B":798.75,"Y":87.37},{"A":4.175,"B":798.75,"Y":87.32},{"A":4.225,"B":798.75,"Y":87.27},{"A":4.275,"B":798.75,"Y":87.22},{"A":4.325,"B":798.75,"Y":87.17},{"A":4.375,"B":798.75,"Y":87.12},{"A":4.425,"B":798.75,"Y":87.07},{"A":4.475,"B":798.75,"Y":87.02},
{"A":2.525,"B":806.25,"Y":89.15},{"A":2.575,"B":806.25,"Y":89.09},{"A":2.625,"B":806.25,"Y":89.03},{"A":2.675,"B":806.25,"Y":88.97},{"A":2.725,"B":806.25,"Y":88.91},{"A":2.775,"B":806.25,"Y":88.85},{"A":2.825,"B":806.25,"Y":88.79},{"A":2.875,"B":806.25,"Y":88.73},{"A":2.925,"B":806.25,"Y":88.67},{"A":2.975,"B":806.25,"Y":88.61},{"A":3.025,"B":806.25,"Y":88.55},{"A":3.075,"B":806.25,"Y":88.49},{"A":3.125,"B":806.25,"Y":88.43},{"A":3.175,"B":806.25,"Y":88.38},{"A":3.225,"B":806.25,"Y":88.32},{"A":3.275,"B":806.25,"Y":88.26},{"A":3.325,"B":806.25,"Y":88.20},{"A":3.375,"B":806.25,"Y":88.14},{"A":3.425,"B":806.25,"Y":88.08},{"A":3.475,"B":806.25,"Y":88.02},{"A":3.525,"B":806.25,"Y":87.96},{"A":3.575,"B":806.25,"Y":87.90},{"A":3.625,"B":806.25,"Y":87.84},{"A":3.675,"B":806.25,"Y":87.78},{"A":3.725,"B":806.25,"Y":87.72},{"A":3.775,"B":806.25,"Y":87.66},{"A":3.825,"B":806.25,"Y":87.60},{"A":3.875,"B":806.25,"Y":87.55},{"A":3.925,"B":806.25,"Y":87.49},{"A":3.975,"B":806.25,"Y":87.43},{"A":4.025,"B":806.25,"Y":87.37},{"A":4.075,"B":806.25,"Y":87.31},{"A":4.125,"B":806.25,"Y":87.25},{"A":4.175,"B":806.25,"Y":87.19},{"A":4.225,"B":806.25,"Y":87.13},{"A":4.275,"B":806.25,"Y":87.07},{"A":4.325,"B":806.25,"Y":87.01},{"A":4.375,"B":806.25,"Y":86.95},{"A":4.425,"B":806.25,"Y":86.89},{"A":4.475,"B":806.25,"Y":86.83},
{"A":2.525,"B":813.75,"Y":89.36},{"A":2.575,"B":813.75,"Y":89.29},{"A":2.625,"B":813.75,"Y":89.22},{"A":2.675,"B":813.75,"Y":89.15},{"A":2.725,"B":813.75,"Y":89.08},{"A":2.775,"B":813.75,"Y":89.01},{"A":2.825,"B":813.75,"Y":88.94},{"A":2.875,"B":813.75,"Y":88.87},{"A":2.925,"B":813.75,"Y":88.80},{"A":2.975,"B":813.75,"Y":88.73},{"A":3.025,"B":813.75,"Y":88.66},{"A":3.075,"B":813.75,"Y":88.59},{"A":3.125,"B":813.75,"Y":88.52},{"A":3.175,"B":813.75,"Y":88.45},{"A":3.225,"B":813.75,"Y":88.38},{"A":3.275,"B":813.75,"Y":88.31},{"A":3.325,"B":813.75,"Y":88.24},{"A":3.375,"B":813.75,"Y":88.17},{"A":3.425,"B":813.75,"Y":88.10},{"A":3.475,"B":813.75,"Y":88.03},{"A":3.525,"B":813.75,"Y":87.97},{"A":3.575,"B":813.75,"Y":87.90},{"A":3.625,"B":813.75,"Y":87.83},{"A":3.675,"B":813.75,"Y":87.76},{"A":3.725,"B":813.75,"Y":87.69},{"A":3.775,"B":813.75,"Y":87.62},{"A":3.825,"B":813.75,"Y":87.55},{"A":3.875,"B":813.75,"Y":87.48},{"A":3.925,"B":813.75,"Y":87.41},{"A":3.975,"B":813.75,"Y":87.34},{"A":4.025,"B":813.75,"Y":87.27},{"A":4.075,"B":813.75,"Y":87.20},{"A":4.125,"B":813.75,"Y":87.13},{"A":4.175,"B":813.75,"Y":87.06},{"A":4.225,"B":813.75,"Y":86.99},{"A":4.275,"B":813.75,"Y":86.92},{"A":4.325,"B":813.75,"Y":86.85},{"A":4.375,"B":813.75,"Y":86.78},{"A":4.425,"B":813.75,"Y":86.71},{"A":4.475,"B":813.75,"Y":86.64},
{"A":2.525,"B":821.25,"Y":89.57},{"A":2.575,"B":821.25,"Y":89.49},{"A":2.625,"B":821.25,"Y":89.41},{"A":2.675,"B":821.25,"Y":89.33},{"A":2.725,"B":821.25,"Y":89.25},{"A":2.775,"B":821.25,"Y":89.17},{"A":2.825,"B":821.25,"Y":89.09},{"A":2.875,"B":821.25,"Y":89.01},{"A":2.925,"B":821.25,"Y":88.93},{"A":2.975,"B":821.25,"Y":88.85},{"A":3.025,"B":821.25,"Y":88.77},{"A":3.075,"B":821.25,"Y":88.69},{"A":3.125,"B":821.25,"Y":88.61},{"A":3.175,"B":821.25,"Y":88.53},{"A":3.225,"B":821.25,"Y":88.45},{"A":3.275,"B":821.25,"Y":88.37},{"A":3.325,"B":821.25,"Y":88.29},{"A":3.375,"B":821.25,"Y":88.21},{"A":3.425,"B":821.25,"Y":88.13},{"A":3.475,"B":821.25,"Y":88.05},{"A":3.525,"B":821.25,"Y":87.97},{"A":3.575,"B":821.25,"Y":87.89},{"A":3.625,"B":821.25,"Y":87.81},{"A":3.675,"B":821.25,"Y":87.73},{"A":3.725,"B":821.25,"Y":87.65},{"A":3.775,"B":821.25,"Y":87.57},{"A":3.825,"B":821.25,"Y":87.49},{"A":3.875,"B":821.25,"Y":87.41},{"A":3.925,"B":821.25,"Y":87.33},{"A":3.975,"B":821.25,"Y":87.25},{"A":4.025,"B":821.25,"Y":87.17},{"A":4.075,"B":821.25,"Y":87.09},{"A":4.125,"B":821.25,"Y":87.01},{"A":4.175,"B":821.25,"Y":86.93},{"A":4.225,"B":821.25,"Y":86.85},{"A":4.275,"B":821.25,"Y":86.77},{"A":4.325,"B":821.25,"Y":86.69},{"A":4.375,"B":821.25,"Y":86.61},{"A":4.425,"B":821.25,"Y":86.53},{"A":4.475,"B":821.25,"Y":86.45},
{"A":2.525,"B":828.75,"Y":89.78},{"A":2.575,"B":828.75,"Y":89.69},{"A":2.625,"B":828.75,"Y":89.60},{"A":2.675,"B":828.75,"Y":89.51},{"A":2.725,"B":828.75,"Y":89.42},{"A":2.775,"B":828.75,"Y":89.33},{"A":2.825,"B":828.75,"Y":89.24},{"A":2.875,"B":828.75,"Y":89.15},{"A":2.925,"B":828.75,"Y":89.06},{"A":2.975,"B":828.75,"Y":88.97},{"A":3.025,"B":828.75,"Y":88.88},{"A":3.075,"B":828.75,"Y":88.79},{"A":3.125,"B":828.75,"Y":88.70},{"A":3.175,"B":828.75,"Y":88.61},{"A":3.225,"B":828.75,"Y":88.52},{"A":3.275,"B":828.75,"Y":88.43},{"A":3.325,"B":828.75,"Y":88.34},{"A":3.375,"B":828.75,"Y":88.25},{"A":3.425,"B":828.75,"Y":88.16},{"A":3.475,"B":828.75,"Y":88.07},{"A":3.525,"B":828.75,"Y":87.97},{"A":3.575,"B":828.75,"Y":87.88},{"A":3.625,"B":828.75,"Y":87.79},{"A":3.675,"B":828.75,"Y":87.70},{"A":3.725,"B":828.75,"Y":87.61},{"A":3.775,"B":828.75,"Y":87.52},{"A":3.825,"B":828.75,"Y":87.43},{"A":3.875,"B":828.75,"Y":87.34},{"A":3.925,"B":828.75,"Y":87.25},{"A":3.975,"B":828.75,"Y":87.16},{"A":4.025,"B":828.75,"Y":87.07},{"A":4.075,"B":828.75,"Y":86.98},{"A":4.125,"B":828.75,"Y":86.89},{"A":4.175,"B":828.75,"Y":86.80},{"A":4.225,"B":828.75,"Y":86.71},{"A":4.275,"B":828.75,"Y":86.62},{"A":4.325,"B":828.75,"Y":86.53},{"A":4.375,"B":828.75,"Y":86.44},{"A":4.425,"B":828.75,"Y":86.35},{"A":4.475,"B":828.75,"Y":86.26},
{"A":2.525,"B":836.25,"Y":89.99},{"A":2.575,"B":836.25,"Y":89.89},{"A":2.625,"B":836.25,"Y":89.79},{"A":2.675,"B":836.25,"Y":89.69},{"A":2.725,"B":836.25,"Y":89.59},{"A":2.775,"B":836.25,"Y":89.49},{"A":2.825,"B":836.25,"Y":89.39},{"A":2.875,"B":836.25,"Y":89.29},{"A":2.925,"B":836.25,"Y":89.18},{"A":2.975,"B":836.25,"Y":89.08},{"A":3.025,"B":836.25,"Y":88.98},{"A":3.075,"B":836.25,"Y":88.88},{"A":3.125,"B":836.25,"Y":88.78},{"A":3.175,"B":836.25,"Y":88.68},{"A":3.225,"B":836.25,"Y":88.58},{"A":3.275,"B":836.25,"Y":88.48},{"A":3.325,"B":836.25,"Y":88.38},{"A":3.375,"B":836.25,"Y":88.28},{"A":3.425,"B":836.25,"Y":88.18},{"A":3.475,"B":836.25,"Y":88.08},{"A":3.525,"B":836.25,"Y":87.98},{"A":3.575,"B":836.25,"Y":87.88},{"A":3.625,"B":836.25,"Y":87.78},{"A":3.675,"B":836.25,"Y":87.68},{"A":3.725,"B":836.25,"Y":87.58},{"A":3.775,"B":836.25,"Y":87.48},{"A":3.825,"B":836.25,"Y":87.38},{"A":3.875,"B":836.25,"Y":87.28},{"A":3.925,"B":836.25,"Y":87.18},{"A":3.975,"B":836.25,"Y":87.08},{"A":4.025,"B":836.25,"Y":86.98},{"A":4.075,"B":836.25,"Y":86.88},{"A":4.125,"B":836.25,"Y":86.77},{"A":4.175,"B":836.25,"Y":86.67},{"A":4.225,"B":836.25,"Y":86.57},{"A":4.275,"B":836.25,"Y":86.47},{"A":4.325,"B":836.25,"Y":86.37},{"A":4.375,"B":836.25,"Y":86.27},{"A":4.425,"B":836.25,"Y":86.17},{"A":4.475,"B":836.25,"Y":86.07},
{"A":2.525,"B":843.75,"Y":90.20},{"A":2.575,"B":843.75,"Y":90.09},{"A":2.625,"B":843.75,"Y":89.98},{"A":2.675,"B":843.75,"Y":89.87},{"A":2.725,"B":843.75,"Y":89.76},{"A":2.775,"B":843.75,"Y":89.64},{"A":2.825,"B":843.75,"Y":89.53},{"A":2.875,"B":843.75,"Y":89.42},{"A":2.925,"B":843.75,"Y":89.31},{"A":2.975,"B":843.75,"Y":89.20},{"A":3.025,"B":843.75,"Y":89.09},{"A":3.075,"B":843.75,"Y":88.98},{"A":3.125,"B":843.75,"Y":88.87},{"A":3.175,"B":843.75,"Y":88.76},{"A":3.225,"B":843.75,"Y":88.65},{"A":3.275,"B":843.75,"Y":88.54},{"A":3.325,"B":843.75,"Y":88.43},{"A":3.375,"B":843.75,"Y":88.32},{"A":3.425,"B":843.75,"Y":88.21},{"A":3.475,"B":843.75,"Y":88.10},{"A":3.525,"B":843.75,"Y":87.98},{"A":3.575,"B":843.75,"Y":87.87},{"A":3.625,"B":843.75,"Y":87.76},{"A":3.675,"B":843.75,"Y":87.65},{"A":3.725,"B":843.75,"Y":87.54},{"A":3.775,"B":843.75,"Y":87.43},{"A":3.825,"B":843.75,"Y":87.32},{"A":3.875,"B":843.75,"Y":87.21},{"A":3.925,"B":843.75,"Y":87.10},{"A":3.975,"B":843.75,"Y":86.99},{"A":4.025,"B":843.75,"Y":86.88},{"A":4.075,"B":843.75,"Y":86.77},{"A":4.125,"B":843.75,"Y":86.66},{"A":4.175,"B":843.75,"Y":86.55},{"A":4.225,"B":843.75,"Y":86.44},{"A":4.275,"B":843.75,"Y":86.32},{"A":4.325,"B":843.75,"Y":86.21},{"A":4.375,"B":843.75,"Y":86.10},{"A":4.425,"B":843.75,"Y":85.99},{"A":4.475,"B":843.75,"Y":85.88},
{"A":2.525,"B":851.25,"Y":90.41},{"A":2.575,"B":851.25,"Y":90.29},{"A":2.625,"B":851.25,"Y":90.17},{"A":2.675,"B":851.25,"Y":90.05},{"A":2.725,"B":851.25,"Y":89.92},{"A":2.775,"B":851.25,"Y":89.80},{"A":2.825,"B":851.25,"Y":89.68},{"A":2.875,"B":851.25,"Y":89.56},{"A":2.925,"B":851.25,"Y":89.44},{"A":2.975,"B":851.25,"Y":89.32},{"A":3.025,"B":851.25,"Y":89.20},{"A":3.075,"B":851.25,"Y":89.08},{"A":3.125,"B":851.25,"Y":88.96},{"A":3.175,"B":851.25,"Y":88.84},{"A":3.225,"B":851.25,"Y":88.72},{"A":3.275,"B":851.25,"Y":88.59},{"A":3.325,"B":851.25,"Y":88.47},{"A":3.375,"B":851.25,"Y":88.35},{"A":3.425,"B":851.25,"Y":88.23},{"A":3.475,"B":851.25,"Y":88.11},{"A":3.525,"B":851.25,"Y":87.99},{"A":3.575,"B":851.25,"Y":87.87},{"A":3.625,"B":851.25,"Y":87.75},{"A":3.675,"B":851.25,"Y":87.63},{"A":3.725,"B":851.25,"Y":87.51},{"A":3.775,"B":851.25,"Y":87.38},{"A":3.825,"B":851.25,"Y":87.26},{"A":3.875,"B":851.25,"Y":87.14},{"A":3.925,"B":851.25,"Y":87.02},{"A":3.975,"B":851.25,"Y":86.90},{"A":4.025,"B":851.25,"Y":86.78},{"A":4.075,"B":851.25,"Y":86.66},{"A":4.125,"B":851.25,"Y":86.54},{"A":4.175,"B":851.25,"Y":86.42},{"A":4.225,"B":851.25,"Y":86.30},{"A":4.275,"B":851.25,"Y":86.18},{"A":4.325,"B":851.25,"Y":86.05},{"A":4.375,"B":851.25,"Y":85.93},{"A":4.425,"B":851.25,"Y":85.81},{"A":4.475,"B":851.25,"Y":85.69},
{"A":2.525,"B":858.75,"Y":90.62},{"A":2.575,"B":858.75,"Y":90.49},{"A":2.625,"B":858.75,"Y":90.36},{"A":2.675,"B":858.75,"Y":90.23},{"A":2.725,"B":858.75,"Y":90.09},{"A":2.775,"B":858.75,"Y":89.96},{"A":2.825,"B":858.75,"Y":89.83},{"A":2.875,"B":858.75,"Y":89.70},{"A":2.925,"B":858.75,"Y":89.57},{"A":2.975,"B":858.75,"Y":89.44},{"A":3.025,"B":858.75,"Y":89.31},{"A":3.075,"B":858.75,"Y":89.18},{"A":3.125,"B":858.75,"Y":89.04},{"A":3.175,"B":858.75,"Y":88.91},{"A":3.225,"B":858.75,"Y":88.78},{"A":3.275,"B":858.75,"Y":88.65},{"A":3.325,"B":858.75,"Y":88.52},{"A":3.375,"B":858.75,"Y":88.39},{"A":3.425,"B":858.75,"Y":88.26},{"A":3.475,"B":858.75,"Y":88.13},{"A":3.525,"B":858.75,"Y":87.99},{"A":3.575,"B":858.75,"Y":87.86},{"A":3.625,"B":858.75,"Y":87.73},{"A":3.675,"B":858.75,"Y":87.60},{"A":3.725,"B":858.75,"Y":87.47},{"A":3.775,"B":858.75,"Y":87.34},{"A":3.825,"B":858.75,"Y":87.21},{"A":3.875,"B":858.75,"Y":87.08},{"A":3.925,"B":858.75,"Y":86.94},{"A":3.975,"B":858.75,"Y":86.81},{"A":4.025,"B":858.75,"Y":86.68},{"A":4.075,"B":858.75,"Y":86.55},{"A":4.125,"B":858.75,"Y":86.42},{"A":4.175,"B":858.75,"Y":86.29},{"A":4.225,"B":858.75,"Y":86.16},{"A":4.275,"B":858.75,"Y":86.03},{"A":4.325,"B":858.75,"Y":85.89},{"A":4.375,"B":858.75,"Y":85.76},{"A":4.425,"B":858.75,"Y":85.63},{"A":4.475,"B":858.75,"Y":85.50},
{"A":2.525,"B":866.25,"Y":90.83},{"A":2.575,"B":866.25,"Y":90.69},{"A":2.625,"B":866.25,"Y":90.55},{"A":2.675,"B":866.25,"Y":90.41},{"A":2.725,"B":866.25,"Y":90.26},{"A":2.775,"B":866.25,"Y":90.12},{"A":2.825,"B":866.25,"Y":89.98},{"A":2.875,"B":866.25,"Y":89.84},{"A":2.925,"B":866.25,"Y":89.70},{"A":2.975,"B":866.25,"Y":89.56},{"A":3.025,"B":866.25,"Y":89.41},{"A":3.075,"B":866.25,"Y":89.27},{"A":3.125,"B":866.25,"Y":89.13},{"A":3.175,"B":866.25,"Y":88.99},{"A":3.225,"B":866.25,"Y":88.85},{"A":3.275,"B":866.25,"Y":88.71},{"A":3.325,"B":866.25,"Y":88.57},{"A":3.375,"B":866.25,"Y":88.42},{"A":3.425,"B":866.25,"Y":88.28},{"A":3.475,"B":866.25,"Y":88.14},{"A":3.525,"B":866.25,"Y":88.00},{"A":3.575,"B":866.25,"Y":87.86},{"A":3.625,"B":866.25,"Y":87.72},{"A":3.675,"B":866.25,"Y":87.57},{"A":3.725,"B":866.25,"Y":87.43},{"A":3.775,"B":866.25,"Y":87.29},{"A":3.825,"B":866.25,"Y":87.15},{"A":3.875,"B":866.25,"Y":87.01},{"A":3.925,"B":866.25,"Y":86.87},{"A":3.975,"B":866.25,"Y":86.73},{"A":4.025,"B":866.25,"Y":86.58},{"A":4.075,"B":866.25,"Y":86.44},{"A":4.125,"B":866.25,"Y":86.30},{"A":4.175,"B":866.25,"Y":86.16},{"A":4.225,"B":866.25,"Y":86.02},{"A":4.275,"B":866.25,"Y":85.88},{"A":4.325,"B":866.25,"Y":85.74},{"A":4.375,"B":866.25,"Y":85.59},{"A":4.425,"B":866.25,"Y":85.45},{"A":4.475,"B":866.25,"Y":85.31},
{"A":2.525,"B":873.75,"Y":91.04},{"A":2.575,"B":873.75,"Y":90.89},{"A":2.625,"B":873.75,"Y":90.74},{"A":2.675,"B":873.75,"Y":90.58},{"A":2.725,"B":873.75,"Y":90.43},{"A":2.775,"B":873.75,"Y":90.28},{"A":2.825,"B":873.75,"Y":90.13},{"A":2.875,"B":873.75,"Y":89.98},{"A":2.925,"B":873.75,"Y":89.83},{"A":2.975,"B":873.75,"Y":89.67},{"A":3.025,"B":873.75,"Y":89.52},{"A":3.075,"B":873.75,"Y":89.37},{"A":3.125,"B":873.75,"Y":89.22},{"A":3.175,"B":873.75,"Y":89.07},{"A":3.225,"B":873.75,"Y":88.91},{"A":3.275,"B":873.75,"Y":88.76},{"A":3.325,"B":873.75,"Y":88.61},{"A":3.375,"B":873.75,"Y":88.46},{"A":3.425,"B":873.75,"Y":88.31},{"A":3.475,"B":873.75,"Y":88.16},{"A":3.525,"B":873.75,"Y":88.00},{"A":3.575,"B":873.75,"Y":87.85},{"A":3.625,"B":873.75,"Y":87.70},{"A":3.675,"B":873.75,"Y":87.55},{"A":3.725,"B":873.75,"Y":87.40},{"A":3.775,"B":873.75,"Y":87.25},{"A":3.825,"B":873.75,"Y":87.09},{"A":3.875,"B":873.75,"Y":86.94},{"A":3.925,"B":873.75,"Y":86.79},{"A":3.975,"B":873.75,"Y":86.64},{"A":4.025,"B":873.75,"Y":86.49},{"A":4.075,"B":873.75,"Y":86.33},{"A":4.125,"B":873.75,"Y":86.18},{"A":4.175,"B":873.75,"Y":86.03},{"A":4.225,"B":873.75,"Y":85.88},{"A":4.275,"B":873.75,"Y":85.73},{"A":4.325,"B":873.75,"Y":85.58},{"A":4.375,"B":873.75,"Y":85.42},{"A":4.425,"B":873.75,"Y":85.27},{"A":4.475,"B":873.75,"Y":85.12},
{"A":2.525,"B":881.25,"Y":91.25},{"A":2.575,"B":881.25,"Y":91.09},{"A":2.625,"B":881.25,"Y":90.93},{"A":2.675,"B":881.25,"Y":90.76},{"A":2.725,"B":881.25,"Y":90.60},{"A":2.775,"B":881.25,"Y":90.44},{"A":2.825,"B":881.25,"Y":90.28},{"A":2.875,"B":881.25,"Y":90.12},{"A":2.925,"B":881.25,"Y":89.95},{"A":2.975,"B":881.25,"Y":89.79},{"A":3.025,"B":881.25,"Y":89.63},{"A":3.075,"B":881.25,"Y":89.47},{"A":3.125,"B":881.25,"Y":89.31},{"A":3.175,"B":881.25,"Y":89.14},{"A":3.225,"B":881.25,"Y":88.98},{"A":3.275,"B":881.25,"Y":88.82},{"A":3.325,"B":881.25,"Y":88.66},{"A":3.375,"B":881.25,"Y":88.50},{"A":3.425,"B":881.25,"Y":88.33},{"A":3.475,"B":881.25,"Y":88.17},{"A":3.525,"B":881.25,"Y":88.01},{"A":3.575,"B":881.25,"Y":87.85},{"A":3.625,"B":881.25,"Y":87.68},{"A":3.675,"B":881.25,"Y":87.52},{"A":3.725,"B":881.25,"Y":87.36},{"A":3.775,"B":881.25,"Y":87.20},{"A":3.825,"B":881.25,"Y":87.04},{"A":3.875,"B":881.25,"Y":86.87},{"A":3.925,"B":881.25,"Y":86.71},{"A":3.975,"B":881.25,"Y":86.55},{"A":4.025,"B":881.25,"Y":86.39},{"A":4.075,"B":881.25,"Y":86.23},{"A":4.125,"B":881.25,"Y":86.06},{"A":4.175,"B":881.25,"Y":85.90},{"A":4.225,"B":881.25,"Y":85.74},{"A":4.275,"B":881.25,"Y":85.58},{"A":4.325,"B":881.25,"Y":85.42},{"A":4.375,"B":881.25,"Y":85.25},{"A":4.425,"B":881.25,"Y":85.09},{"A":4.475,"B":881.25,"Y":84.93},
{"A":2.525,"B":888.75,"Y":91.46},{"A":2.575,"B":888.75,"Y":91.29},{"A":2.625,"B":888.75,"Y":91.12},{"A":2.675,"B":888.75,"Y":90.94},{"A":2.725,"B":888.75,"Y":90.77},{"A":2.775,"B":888.75,"Y":90.60},{"A":2.825,"B":888.75,"Y":90.43},{"A":2.875,"B":888.75,"Y":90.25},{"A":2.925,"B":888.75,"Y":90.08},{"A":2.975,"B":888.75,"Y":89.91},{"A":3.025,"B":888.75,"Y":89.74},{"A":3.075,"B":888.75,"Y":89.56},{"A":3.125,"B":888.75,"Y":89.39},{"A":3.175,"B":888.75,"Y":89.22},{"A":3.225,"B":888.75,"Y":89.05},{"A":3.275,"B":888.75,"Y":88.88},{"A":3.325,"B":888.75,"Y":88.70},{"A":3.375,"B":888.75,"Y":88.53},{"A":3.425,"B":888.75,"Y":88.36},{"A":3.475,"B":888.75,"Y":88.19},{"A":3.525,"B":888.75,"Y":88.01},{"A":3.575,"B":888.75,"Y":87.84},{"A":3.625,"B":888.75,"Y":87.67},{"A":3.675,"B":888.75,"Y":87.50},{"A":3.725,"B":888.75,"Y":87.32},{"A":3.775,"B":888.75,"Y":87.15},{"A":3.825,"B":888.75,"Y":86.98},{"A":3.875,"B":888.75,"Y":86.81},{"A":3.925,"B":888.75,"Y":86.64},{"A":3.975,"B":888.75,"Y":86.46},{"A":4.025,"B":888.75,"Y":86.29},{"A":4.075,"B":888.75,"Y":86.12},{"A":4.125,"B":888.75,"Y":85.95},{"A":4.175,"B":888.75,"Y":85.77},{"A":4.225,"B":888.75,"Y":85.60},{"A":4.275,"B":888.75,"Y":85.43},{"A":4.325,"B":888.75,"Y":85.26},{"A":4.375,"B":888.75,"Y":85.08},{"A":4.425,"B":888.75,"Y":84.91},{"A":4.475,"B":888.75,"Y":84.74},
{"A":2.525,"B":896.25,"Y":91.67},{"A":2.575,"B":896.25,"Y":91.49},{"A":2.625,"B":896.25,"Y":91.31},{"A":2.675,"B":896.25,"Y":91.12},{"A":2.725,"B":896.25,"Y":90.94},{"A":2.775,"B":896.25,"Y":90.76},{"A":2.825,"B":896.25,"Y":90.58},{"A":2.875,"B":896.25,"Y":90.39},{"A":2.925,"B":896.25,"Y":90.21},{"A":2.975,"B":896.25,"Y":90.03},{"A":3.025,"B":896.25,"Y":89.84},{"A":3.075,"B":896.25,"Y":89.66},{"A":3.125,"B":896.25,"Y":89.48},{"A":3.175,"B":896.25,"Y":89.30},{"A":3.225,"B":896.25,"Y":89.11},{"A":3.275,"B":896.25,"Y":88.93},{"A":3.325,"B":896.25,"Y":88.75},{"A":3.375,"B":896.25,"Y":88.57},{"A":3.425,"B":896.25,"Y":88.38},{"A":3.475,"B":896.25,"Y":88.20},{"A":3.525,"B":896.25,"Y":88.02},{"A":3.575,"B":896.25,"Y":87.84},{"A":3.625,"B":896.25,"Y":87.65},{"A":3.675,"B":896.25,"Y":87.47},{"A":3.725,"B":896.25,"Y":87.29},{"A":3.775,"B":896.25,"Y":87.11},{"A":3.825,"B":896.25,"Y":86.92},{"A":3.875,"B":896.25,"Y":86.74},{"A":3.925,"B":896.25,"Y":86.56},{"A":3.975,"B":896.25,"Y":86.38},{"A":4.025,"B":896.25,"Y":86.19},{"A":4.075,"B":896.25,"Y":86.01},{"A":4.125,"B":896.25,"Y":85.83},{"A":4.175,"B":896.25,"Y":85.64},{"A":4.225,"B":896.25,"Y":85.46},{"A":4.275,"B":896.25,"Y":85.28},{"A":4.325,"B":896.25,"Y":85.10},{"A":4.375,"B":896.25,"Y":84.91},{"A":4.425,"B":896.25,"Y":84.73},{"A":4.475,"B":896.25,"Y":84.55}
],
"contours": [
{"c":"84","A":2.5,"B":626.1},{"c":"84","A":2.55,"B":619.2},{"c":"84","A":2.6,"B":611.7},{"c":"84","A":2.65,"B":603.3},{"c":"84","A":2.668,"B":600},
{"c":"86a","A":2.5,"B":695.7},{"c":"86a","A":2.55,"B":692.3},{"c":"86a","A":2.6,"B":688.6},{"c":"86a","A":2.7,"B":679.9},{"c":"86a","A":2.75,"B":674.7},{"c":"86a","A":2.8,"B":668.8},{"c":"86a","A":2.85,"B":662.0},{"c":"86a","A":2.9,"B":654.2},{"c":"86a","A":2.95,"B":645.2},{"c":"86a","A":3.0,"B":634.4},{"c":"86a","A":3.05,"B":621.5},{"c":"86a","A":3.08,"B":612.5},{"c":"86a","A":3.1,"B":605.8},{"c":"86a","A":3.116,"B":600},
{"c":"86b","A":4.0632,"B":900},{"c":"86b","A":4.1,"B":890.9},{"c":"86b","A":4.15,"B":880.2},{"c":"86b","A":4.2,"B":871.2},{"c":"86b","A":4.3,"B":856.8},{"c":"86b","A":4.4,"B":845.8},{"c":"86b","A":4.5,"B":837.1},
{"c":"88a","A":2.5,"B":765.3},{"c":"88a","A":2.7,"B":765.9},{"c":"88a","A":2.9,"B":766.8},{"c":"88a","A":3.1,"B":768.5},{"c":"88a","A":3.2,"B":770.0},{"c":"88a","A":3.3,"B":772.9},{"c":"88a","A":3.35,"B":775.4},{"c":"88a","A":3.4,"B":779.6},{"c":"88a","A":3.425,"B":782.9},{"c":"88a","A":3.45,"B":788.0},{"c":"88a","A":3.47,"B":794.4},{"c":"88a","A":3.49,"B":805.1},{"c":"88a","A":3.4961,"B":810},{"c":"88a","A":3.5088,"B":825},{"c":"88a","A":3.5166,"B":840},{"c":"88a","A":3.5218,"B":855},{"c":"88a","A":3.5256,"B":870},{"c":"88a","A":3.5306,"B":900},
{"c":"88b","A":3.5638,"B":600},{"c":"88b","A":3.5673,"B":630},{"c":"88b","A":3.5727,"B":660},{"c":"88b","A":3.5825,"B":690},{"c":"88b","A":3.5913,"B":705},{"c":"88b","A":3.6062,"B":720},{"c":"88b","A":3.6184,"B":727.5},{"c":"88b","A":3.6371,"B":735},{"c":"88b","A":3.6695,"B":742.5},{"c":"88b","A":3.6966,"B":746.25},{"c":"88b","A":3.7394,"B":750},{"c":"88b","A":3.75,"B":750.7},{"c":"88b","A":3.8,"B":753.1},{"c":"88b","A":3.85,"B":754.8},{"c":"88b","A":3.9,"B":755.9},{"c":"88b","A":4.1,"B":758.5},{"c":"88b","A":4.3,"B":759.7},{"c":"88b","A":4.5,"B":760.4},
{"c":"90a","A":2.5,"B":834.9},{"c":"90a","A":2.6,"B":842.5},{"c":"90a","A":2.7,"B":851.9},{"c":"90a","A":2.8,"B":863.8},{"c":"90a","A":2.85,"B":871.0},{"c":"90a","A":2.9,"B":879.3},{"c":"90a","A":2.95,"B":889.0},{"c":"90a","A":2.998,"B":900},
{"c":"90b","A":4.0118,"B":600},{"c":"90b","A":4.05,"B":612.4},{"c":"90b","A":4.1,"B":626.1},{"c":"90b","A":4.15,"B":637.5},{"c":"90b","A":4.2,"B":647.1},{"c":"90b","A":4.3,"B":662.5},{"c":"90b","A":4.4,"B":674.3},{"c":"90b","A":4.5,"B":683.6},
{"c":"92","A":4.4597,"B":600},{"c":"92","A":4.48,"B":603.6},{"c":"92","A":4.5,"B":606.9}
],
"labels": [
{"A":2.795,"B":872.6,"t":"90"},{"A":4.246,"B":873.7,"t":"86"},{"A":3.391,"B":785.9,"t":"88"},{"A":3.628,"B":748.1,"t":"88"},{"A":2.86,"B":668.5,"t":"86"},{"A":2.579,"B":624.5,"t":"84"},{"A":4.199,"B":657.9,"t":"90"}
],
"points": [
{"A":2.5,"B":600,"n":""},{"A":2.5,"B":900,"n":""},{"A":4.5,"B":600,"n":""},{"A":4.5,"B":900,"n":""},{"A":3.5,"B":750,"n":"5"}
]
},
"encoding": {
  "x": {"field": "A", "type": "quantitative", "scale": {"domain": [2.5, 4.5], "nice": false, "zero": false},
        "axis": {"values": [2.5, 3, 3.5, 4, 4.5], "format": "~g", "labelFlush": false, "tickSize": 10, "labelPadding": 3, "title": "A: Amount of Talc\u00a0 (%w/w)", "titlePadding": 18}},
  "y": {"field": "B", "type": "quantitative", "scale": {"domain": [600, 900], "nice": false, "zero": false},
        "axis": {"values": [600, 660, 720, 780, 840, 900], "format": "d", "tickSize": 12, "labelPadding": 5, "title": "B: Agitation Speed\u00a0 (rpm)", "titlePadding": 19}}
},
"layer": [
  {"data": {"name": "grid"},
   "mark": {"type": "rect", "width": 13, "height": 13, "clip": true},
   "encoding": {"color": {"field": "Y", "type": "quantitative", "legend": null,
      "scale": {"domain": [83.3, 84.0, 85.0, 86.0, 86.6, 87.2, 87.7, 88.3, 88.9, 89.4, 90.0, 90.8, 91.5, 92.2],
                "range": ["#00FFFF", "#00FCD0", "#00F694", "#00F250", "#00F500", "#3AF800", "#66FF00", "#9CFF00", "#CCFF00", "#FFFF00", "#FFC800", "#FF9000", "#F85800", "#E82000"],
                "interpolate": "rgb", "clamp": true}}}},
  {"data": {"name": "contours"},
   "mark": {"type": "line", "color": "#222", "strokeWidth": 1.4, "clip": true},
   "encoding": {"detail": {"field": "c"}}},
  {"data": {"name": "labels"},
   "mark": {"type": "point", "shape": "square", "size": 1024, "filled": true, "fill": "white", "stroke": "#555", "strokeWidth": 1, "opacity": 1},
   "encoding": {}},
  {"data": {"name": "labels"},
   "mark": {"type": "text", "font": "Open Sans", "fontSize": 22, "color": "#333", "align": "center", "baseline": "middle"},
   "encoding": {"text": {"field": "t"}}},
  {"data": {"name": "points"},
   "mark": {"type": "point", "shape": "circle", "size": 85, "filled": true, "fill": "#C00000", "stroke": "#5a0000", "strokeWidth": 1, "opacity": 1},
   "encoding": {}},
  {"data": {"name": "points"},
   "mark": {"type": "text", "font": "Open Sans", "fontSize": 22, "color": "#333", "align": "right", "baseline": "middle", "dx": -10},
   "encoding": {"text": {"field": "n"}}}
]
}
